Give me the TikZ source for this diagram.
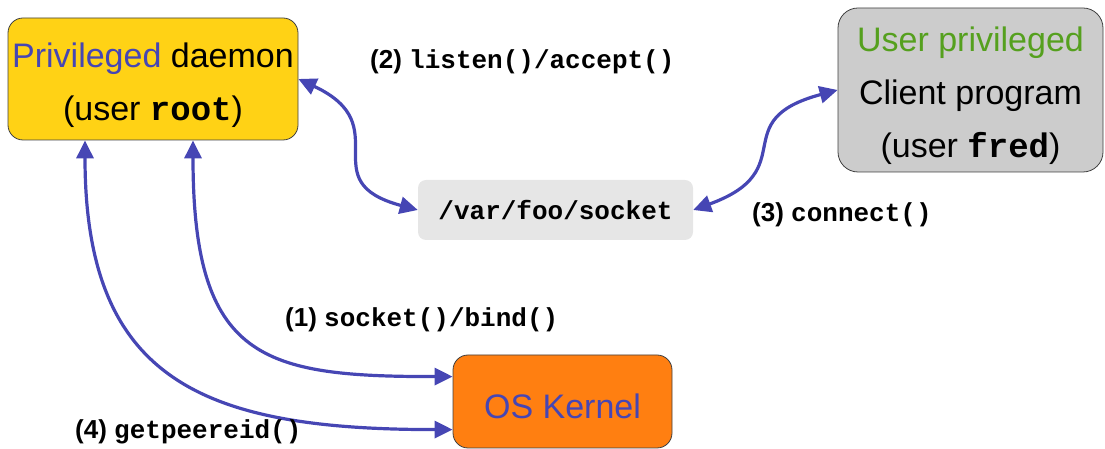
\documentclass[tikz,border=0pt]{standalone}
\usepackage{fontspec}
\setmainfont{Liberation Sans}
\setmonofont{Liberation Mono}
\usetikzlibrary{arrows.meta,positioning}
\definecolor{callblue}{HTML}{4646B4}
\definecolor{usergreen}{HTML}{55A01E}
\definecolor{daemonyellow}{HTML}{FFD215}
\definecolor{clientgray}{HTML}{CCCCCC}
\definecolor{sockgray}{HTML}{E6E6E6}
\definecolor{kernelorange}{HTML}{FF7F11}
\newcommand{\boxfont}{\fontsize{34}{53}\selectfont}
\newcommand{\callfont}{\fontsize{26}{30}\selectfont\bfseries}
\newcommand{\cmd}[1]{\texttt{\bfseries #1}}

\begin{document}
\begin{tikzpicture}[x=1pt,y=1pt,
  box/.style={draw=black!75,line width=0.8pt,rounded corners=15pt,inner sep=0pt},
  boxtext/.style={inner sep=0pt,align=center,font=\boxfont},
  conn/.style={draw=callblue,line width=3.2pt,{Triangle[length=18pt,width=17pt]}-{Triangle[length=18pt,width=17pt]}},
  call/.style={anchor=west,inner sep=0pt,font=\callfont}]
\useasboundingbox (0,0) rectangle (1105,449);

%daemon
\node[box,fill=daemonyellow,minimum width=290pt,minimum height=122pt] (daemon) at (153,370) {};
\node[boxtext] (daemonText) at ([yshift=-6pt]daemon.center)
  {\textcolor{callblue}{Privileged} daemon\\(user \cmd{root})};

%socket
\node[fill=sockgray,rounded corners=8pt,minimum width=275pt,minimum height=60pt,inner sep=0pt,font=\callfont\ttfamily] (sock) at (555.5,239) {/var/foo/socket};

%client
\node[box,fill=clientgray,rounded corners=20pt,minimum width=265pt,minimum height=164pt] (client) at (970.5,359) {};
\node[boxtext] (clientText) at ([yshift=-6pt]client.center)
  {\textcolor{usergreen}{User privileged}\\Client program\\(user \cmd{fred})};

%kernel
\node[box,fill=kernelorange,minimum width=219pt,minimum height=93pt] (kernel) at (562.5,47.5) {};
\node[boxtext,text=callblue] (kernelText) at ([yshift=-5pt]kernel.center) {OS Kernel};

%calls
\draw[conn] (daemon.east) to[out=-25,in=165,looseness=1.6] (sock.west);
\draw[conn] (sock.east) to[out=20,in=195,looseness=1.6] (client.west);
\draw[conn] ([xshift=40pt]daemon.south) .. controls +(0,-220) and +(-190,0) .. ([yshift=-22pt]kernel.north west);
\draw[conn] ([xshift=-68pt]daemon.south) .. controls +(0,-240) and +(-250,0) .. ([yshift=-75pt]kernel.north west);

%labels
\node[call] (lbl2) at (370,387) {(2) \cmd{listen()/accept()}};
\node[call] (lbl3) at (752,234) {(3) \cmd{connect()}};
\node[call] (lbl1) at (285,129) {(1) \cmd{socket()/bind()}};
\node[call] (lbl4) at (75,17) {(4) \cmd{getpeereid()}};
\end{tikzpicture}
\end{document}
